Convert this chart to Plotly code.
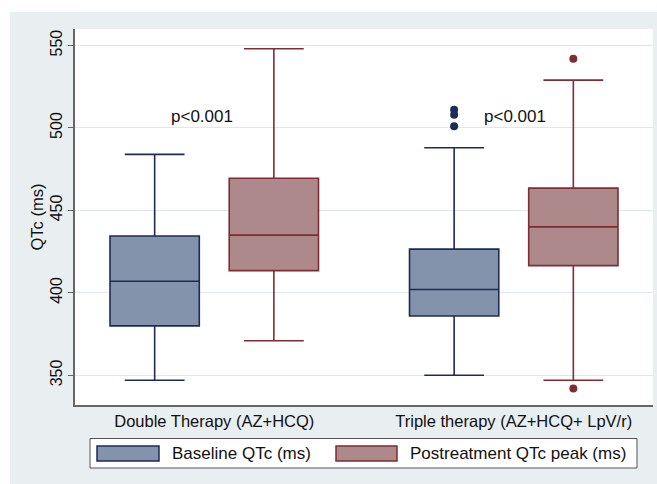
import plotly.graph_objects as go

# ---- data ----
categories = ["Double Therapy (AZ+HCQ)", "Triple therapy (AZ+HCQ+ LpV/r)"]
cat_pos = [0, 1]

series_names = ["Baseline QTc (ms)", "Postreatment QTc peak (ms)"]

base_lower = [347, 350]
base_q1 = [380, 386]
base_median = [407, 402]
base_q3 = [434.5, 426.5]
base_upper = [484, 488]
base_outliers = [[], [511, 508, 501]]

post_lower = [371, 347]
post_q1 = [413.5, 416.5]
post_median = [435, 440]
post_q3 = [469.5, 463.5]
post_upper = [548, 529]
post_outliers = [[], [542, 342]]

pvalues = ["p<0.001", "p<0.001"]
pval_y = [507, 507]
pval_dx = [-0.04, 0.003]

y_ticks = [350, 400, 450, 500, 550]

# ---- styles ----
FONT = "Liberation Sans, Arial, sans-serif"
base_fill, base_line = "#8393ab", "#1c2b59"
post_fill, post_line = "#ad898b", "#7e2d32"
frame_gray = "#e9eef1"


def box_trace(name, lower, q1, med, q3, upper, outl, fill, line):
    ys = [[lower[i], upper[i]] + outl[i] for i in range(len(cat_pos))]
    return go.Box(
        name=name, x=cat_pos, y=ys,
        lowerfence=lower, q1=q1, median=med, q3=q3, upperfence=upper,
        fillcolor=fill, line=dict(color=line, width=1.6),
        whiskerwidth=0.67, boxpoints="outliers", jitter=0, pointpos=0,
        marker=dict(color=line, size=8, line=dict(width=0)),
        showlegend=False,
    )


fig = go.Figure()
fig.add_trace(box_trace(series_names[0], base_lower, base_q1, base_median,
                        base_q3, base_upper, base_outliers, base_fill, base_line))
fig.add_trace(box_trace(series_names[1], post_lower, post_q1, post_median,
                        post_q3, post_upper, post_outliers, post_fill, post_line))

for i, txt in enumerate(pvalues):
    fig.add_annotation(x=cat_pos[i] + pval_dx[i], y=pval_y[i], text=txt,
                       showarrow=False, font=dict(size=17, color="#111", family=FONT),
                       xanchor="center", yanchor="middle")

# white strips outside the grey frame (top and left)
fig.add_shape(type="rect", xref="paper", yref="paper", x0=-0.2, x1=1.1,
              y0=(405 - 12) / 376, y1=1.2, fillcolor="white", line_width=0, layer="below")
fig.add_shape(type="rect", xref="paper", yref="paper", x0=-0.2, x1=(10 - 75) / 578,
              y0=-0.3, y1=1.2, fillcolor="white", line_width=0, layer="below")

# manual legend
px = lambda x: (x - 75) / 578
py = lambda y: (405 - y) / 376
fig.add_shape(type="rect", xref="paper", yref="paper", x0=px(90), x1=px(637),
              y0=py(468), y1=py(438.5), fillcolor="white",
              line=dict(color="#555", width=1))
leg_items = [(series_names[0], base_fill, base_line, 97, 159, 170),
             (series_names[1], post_fill, post_line, 336, 397, 408)]
for name, fc, lc, sx0, sx1, tx in leg_items:
    fig.add_shape(type="rect", xref="paper", yref="paper", x0=px(sx0), x1=px(sx1),
                  y0=py(461), y1=py(446), fillcolor=fc, line=dict(color=lc, width=1.5))
    fig.add_annotation(xref="paper", yref="paper", x=px(tx), y=py(453.5), text=name,
                       showarrow=False, xanchor="left", yanchor="middle",
                       font=dict(size=17, color="#111", family=FONT))

fig.update_layout(
    width=657, height=484,
    margin=dict(l=75, r=4, t=29, b=79),
    paper_bgcolor=frame_gray, plot_bgcolor="white",
    boxmode="group", boxgap=0.204, boxgroupgap=0.251,
    font=dict(family=FONT, size=16, color="#111"),
    showlegend=False,
)
fig.update_xaxes(
    range=[-0.465, 1.465], tickmode="array", tickvals=cat_pos, ticktext=categories,
    showgrid=False, zeroline=False, showline=True, linecolor="#666", linewidth=1.5,
    ticks="", tickfont=dict(size=16.5, color="#111"), automargin=False,
)
fig.update_yaxes(
    range=[332, 560], tickmode="array", tickvals=y_ticks, tickangle=-90,
    showgrid=True, gridcolor="#dfe8ee", gridwidth=1, zeroline=False,
    showline=True, linecolor="#666", linewidth=1.5,
    ticks="outside", ticklen=5, tickcolor="#666",
    tickfont=dict(size=16, color="#111"), automargin=False,
    title=dict(text="QTc (ms)", font=dict(size=16.5, color="#111"), standoff=0),
)

fig.write_html("out.html", config={"displayModeBar": False},
               post_script="document.body.style.margin='0';")
